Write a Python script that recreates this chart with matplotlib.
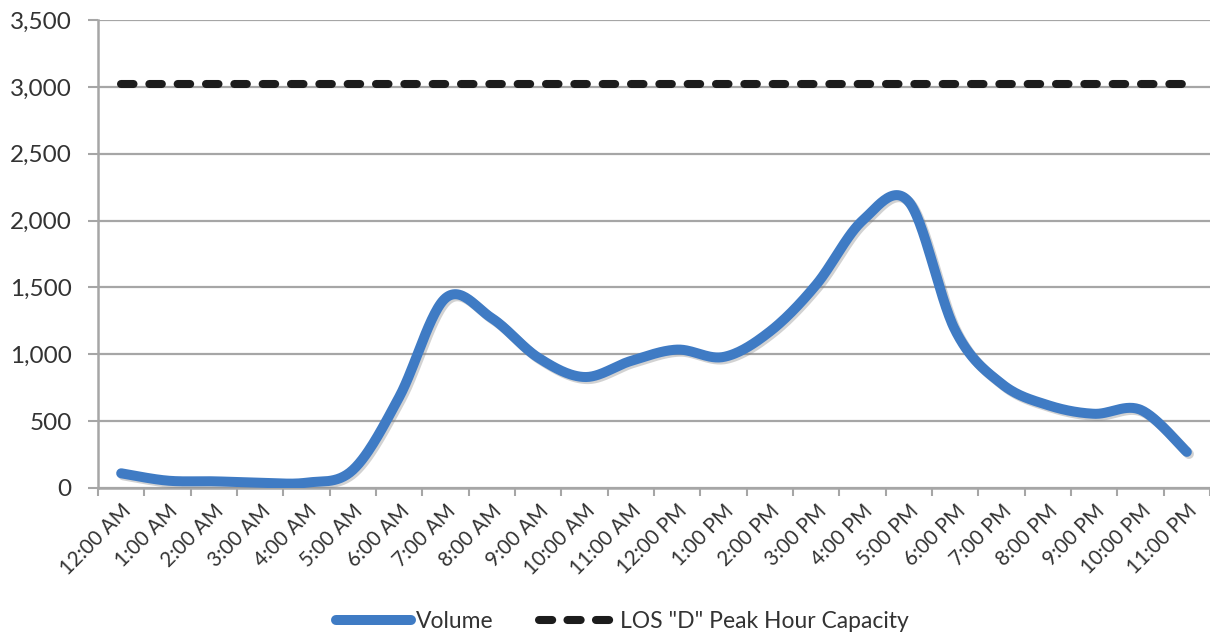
import numpy as np
import matplotlib
matplotlib.use("Agg")
import matplotlib.pyplot as plt
from matplotlib import patheffects as pe
from matplotlib.lines import Line2D

# Hourly traffic data
hours = ["12:00 AM", "1:00 AM", "2:00 AM", "3:00 AM", "4:00 AM", "5:00 AM",
         "6:00 AM", "7:00 AM", "8:00 AM", "9:00 AM", "10:00 AM", "11:00 AM",
         "12:00 PM", "1:00 PM", "2:00 PM", "3:00 PM", "4:00 PM", "5:00 PM",
         "6:00 PM", "7:00 PM", "8:00 PM", "9:00 PM", "10:00 PM", "11:00 PM"]
volume = [110, 55, 50, 40, 40, 135, 680, 1420, 1270, 975, 830, 950,
          1035, 980, 1170, 1520, 2000, 2140, 1180, 780, 620, 555, 585, 270]
capacity = 3020
y_ticks = [0, 500, 1000, 1500, 2000, 2500, 3000, 3500]

plt.rcParams["font.family"] = ["Lato", "DejaVu Sans"]
plt.rcParams["lines.scale_dashes"] = False
TEXT = "#333333"
GRID = "#a6a6a6"
BLUE = "#3f7bc4"


def smooth(xs, ys, steps=30):
    """Cubic Bezier smoothing through every point (Catmull-Rom tangents)."""
    xs = np.asarray(xs, float)
    ys = np.asarray(ys, float)
    px = np.concatenate([[xs[0]], xs, [xs[-1]]])
    py = np.concatenate([[ys[0]], ys, [ys[-1]]])
    out_x, out_y = [], []
    t = np.linspace(0, 1, steps, endpoint=False)
    for i in range(1, len(px) - 2):
        p0 = np.array([px[i], py[i]])
        p3 = np.array([px[i + 1], py[i + 1]])
        c1 = p0 + (np.array([px[i + 1], py[i + 1]]) - np.array([px[i - 1], py[i - 1]])) / 6
        c2 = p3 - (np.array([px[i + 2], py[i + 2]]) - np.array([px[i], py[i]])) / 6
        b = ((1 - t) ** 3)[:, None] * p0 + (3 * (1 - t) ** 2 * t)[:, None] * c1 \
            + (3 * (1 - t) * t ** 2)[:, None] * c2 + (t ** 3)[:, None] * p3
        out_x.extend(b[:, 0])
        out_y.extend(b[:, 1])
    out_x.append(xs[-1])
    out_y.append(ys[-1])
    return np.array(out_x), np.array(out_y)


fig = plt.figure(figsize=(12.1, 6.35), dpi=100)
ax = fig.add_axes([0.081, 0.2315, 0.919, 0.737])

x = np.arange(len(hours))
sx, sy = smooth(x, volume)

ax.plot(sx, sy, color=BLUE, lw=7.2, solid_capstyle="round", solid_joinstyle="round",
        zorder=4,
        path_effects=[pe.SimpleLineShadow(offset=(1.5, -1.5), shadow_color="#7f7f7f",
                                          alpha=0.35),
                      pe.Normal()])
ax.plot([x[0], x[-1]], [capacity, capacity], color="#1c1c1c", lw=5.8,
        dashes=(9.0, 11.4), dash_capstyle="round", zorder=3)

ax.set_xlim(-0.5, 23.42)
ax.set_ylim(0, 3500)

ax.set_yticks(y_ticks)
ax.set_yticklabels([f"{v:,}" for v in y_ticks])
ax.yaxis.grid(True, color=GRID, lw=1.6)
ax.set_axisbelow(True)

# category boundaries carry the tick marks, centers carry the labels
ax.set_xticks(np.arange(-0.5, len(hours) + 0.5, 1.0))
ax.set_xticklabels([])
ax.set_xticks(x, minor=True)
ax.set_xticklabels(hours, minor=True, rotation=45, ha="right", va="top",
                   rotation_mode="anchor", fontsize=14.8, color=TEXT)
ax.tick_params(axis="x", which="major", length=6, width=1.5, color=GRID, direction="out")
ax.tick_params(axis="x", which="minor", length=0, pad=9)
ax.tick_params(axis="y", length=7, width=1.5, color=GRID, labelsize=17.5,
               labelcolor=TEXT, pad=12)

for side in ("top", "right"):
    ax.spines[side].set_visible(False)
for side in ("left", "bottom"):
    ax.spines[side].set_color(GRID)
    ax.spines[side].set_linewidth(1.8)

handles = [
    Line2D([], [], color=BLUE, lw=7.2, solid_capstyle="round"),
    Line2D([], [], color="#1c1c1c", lw=5.8, dashes=(9.5, 11.0), dash_capstyle="round"),
]
fig.legend(handles, ["Volume", 'LOS "D" Peak Hour Capacity'], loc="center",
           bbox_to_anchor=(0.514, 0.022), ncol=2, frameon=False, fontsize=16.5,
           handlelength=3.3, handletextpad=0.2, columnspacing=2.0,
           labelcolor=TEXT)

fig.savefig("out.png", dpi=100, facecolor="white")
